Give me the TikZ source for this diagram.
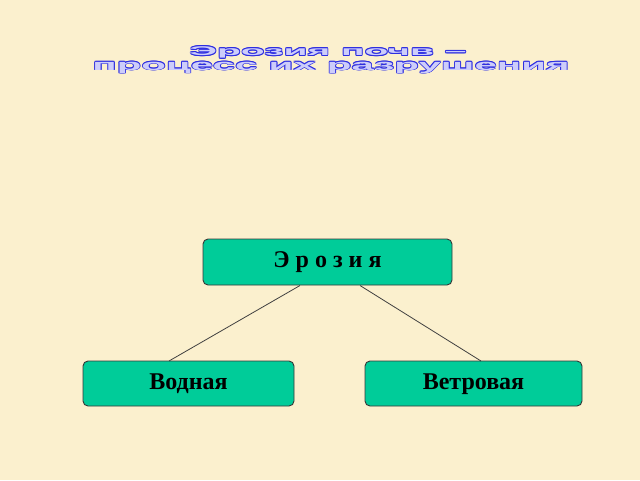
\documentclass[tikz,border=0pt]{standalone}
\usepackage{fontspec}
\setmainfont{Liberation Serif}
\newfontfamily\titlefont{Liberation Sans}
\usepackage{graphicx}
\definecolor{bgc}{RGB}{251,240,206}
\definecolor{boxc}{RGB}{0,204,153}
\definecolor{edgec}{RGB}{55,55,55}
\definecolor{ttlout}{RGB}{45,45,225}
\definecolor{ttlin}{RGB}{205,205,250}
\newcommand{\ttlword}[3]{\resizebox*{#1}{#2}{\titlefont\bfseries #3}}
\begin{document}
\begin{tikzpicture}[x=1pt,y=-1pt,
  boxn/.style={draw=edgec,line width=0.9pt,fill=boxc,rounded corners=5pt,inner sep=0pt,font=\bfseries\fontsize{24}{28}\selectfont,text height=15pt,text depth=4pt},
  link/.style={draw=black!75,line width=0.8pt},
  ttlo/.style={inner sep=0pt,text=ttlout},
  ttli/.style={inner sep=0pt,text=ttlin}]
\useasboundingbox (0,0) rectangle (640,480);
\fill[bgc] (0,0) rectangle (640,480);
% title outline copies
\foreach \dx/\dy in {-0.9/0,0.9/0,0/-0.9,0/0.9,-0.65/-0.65,0.65/0.65,-0.65/0.65,0.65/-0.65}{
  \node[ttlo] at (328+\dx,52.5+\dy) {\ttlword{277pt}{11.5pt}{Эрозия почв –}};
  \node[ttlo] at (331+\dx,67.5+\dy) {\ttlword{477pt}{11.5pt}{процесс их разрушения}};
}
\node[ttli] (t1) at (328,52.5) {\ttlword{277pt}{11.5pt}{Эрозия почв –}};
\node[ttli] (t2) at (331,67.5) {\ttlword{477pt}{11.5pt}{процесс их разрушения}};
% boxes
\node[boxn,minimum width=249pt,minimum height=46pt] (ero) at (327.5,262) {Э р о з и я};
\node[boxn,minimum width=211pt,minimum height=45pt] (vod) at (188.5,383.5) {Водная};
\node[boxn,minimum width=217pt,minimum height=45pt] (vet) at (473.5,383.5) {Ветровая};
% connectors
\coordinate (a1) at (300,285.5);
\coordinate (a2) at (360,285.5);
\coordinate (b1) at (169,361);
\coordinate (b2) at (481,361);
\draw[link] (a1) -- (b1);
\draw[link] (a2) -- (b2);
\end{tikzpicture}
\end{document}
